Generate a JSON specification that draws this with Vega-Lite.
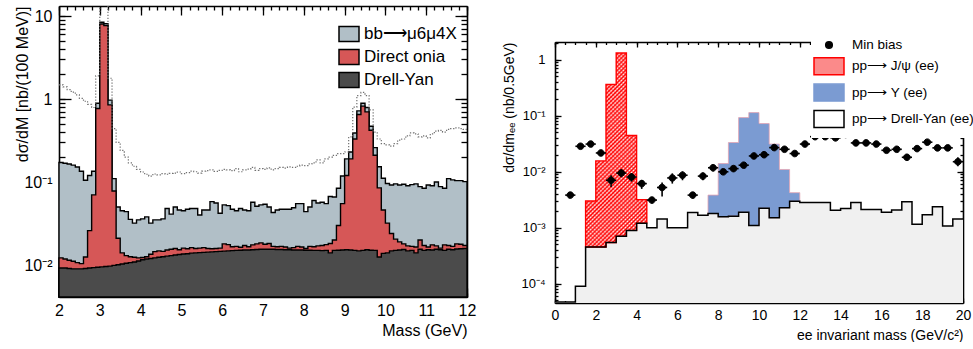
{
 "$schema": "https://vega.github.io/schema/vega-lite/v6.json",
 "padding": {"left": 13, "top": 5, "right": 0, "bottom": 0},
 "background": "white",
 "spacing": 25,
 "config": {"view": {"stroke": null}, "font": "Liberation Sans",
  "axis": {"domainColor": "black", "domainWidth": 1.6, "ticks": true, "tickColor": "#000000", "tickWidth": 1.3, "tickOpacity": 1, "labelColor": "black", "titleColor": "black", "titleFontWeight": "normal", "labelOverlap": false, "labelFlush": false, "grid": false, "zindex": 1},
  "legend": {"zindex": 2}},
 "resolve": {"scale": {"fill": "independent", "stroke": "independent", "shape": "independent"}},
 "datasets": {
  "L": [
   {"m":2.0,"dy":0.0092,"on":0.0122,"bb":0.172,"dot":1.48},
   {"m":2.1,"dy":0.0092,"on":0.0118,"bb":0.168,"dot":1.40},
   {"m":2.2,"dy":0.0091,"on":0.0114,"bb":0.165,"dot":1.30},
   {"m":2.3,"dy":0.0090,"on":0.0111,"bb":0.160,"dot":1.21},
   {"m":2.4,"dy":0.0090,"on":0.0107,"bb":0.152,"dot":1.12},
   {"m":2.5,"dy":0.0090,"on":0.0104,"bb":0.135,"dot":1.02},
   {"m":2.6,"dy":0.0091,"on":0.0125,"bb":0.105,"dot":0.94},
   {"m":2.7,"dy":0.0092,"on":0.026,"bb":0.120,"dot":0.86},
   {"m":2.8,"dy":0.0093,"on":0.070,"bb":0.135,"dot":0.79},
   {"m":2.9,"dy":0.0094,"on":0.77,"bb":0.89,"dot":1.9},
   {"m":3.0,"dy":0.0095,"on":8.0,"bb":8.4,"dot":14},
   {"m":3.1,"dy":0.0096,"on":7.7,"bb":8.1,"dot":14},
   {"m":3.2,"dy":0.0097,"on":0.85,"bb":0.97,"dot":1.78},
   {"m":3.3,"dy":0.0099,"on":0.078,"bb":0.11,"dot":0.44},
   {"m":3.4,"dy":0.0101,"on":0.021,"bb":0.050,"dot":0.30},
   {"m":3.5,"dy":0.0103,"on":0.014,"bb":0.045,"dot":0.24},
   {"m":3.6,"dy":0.0105,"on":0.013,"bb":0.044,"dot":0.20},
   {"m":3.7,"dy":0.0107,"on":0.0126,"bb":0.0355,"dot":0.17},
   {"m":3.8,"dy":0.0109,"on":0.0124,"bb":0.032,"dot":0.155},
   {"m":3.9,"dy":0.0112,"on":0.0122,"bb":0.035,"dot":0.142},
   {"m":4.0,"dy":0.0116,"on":0.0123,"bb":0.036,"dot":0.132},
   {"m":4.1,"dy":0.0118,"on":0.0126,"bb":0.038,"dot":0.124},
   {"m":4.2,"dy":0.0120,"on":0.0135,"bb":0.032,"dot":0.118},
   {"m":4.3,"dy":0.0122,"on":0.0145,"bb":0.035,"dot":0.125},
   {"m":4.4,"dy":0.0124,"on":0.0148,"bb":0.035,"dot":0.122},
   {"m":4.5,"dy":0.0126,"on":0.0146,"bb":0.036,"dot":0.126},
   {"m":4.6,"dy":0.0128,"on":0.0152,"bb":0.048,"dot":0.124},
   {"m":4.7,"dy":0.0130,"on":0.0155,"bb":0.041,"dot":0.127},
   {"m":4.8,"dy":0.0132,"on":0.0158,"bb":0.050,"dot":0.128},
   {"m":4.9,"dy":0.0134,"on":0.0153,"bb":0.046,"dot":0.132},
   {"m":5.0,"dy":0.0136,"on":0.0160,"bb":0.045,"dot":0.126},
   {"m":5.1,"dy":0.0137,"on":0.0157,"bb":0.047,"dot":0.130},
   {"m":5.2,"dy":0.0139,"on":0.0162,"bb":0.048,"dot":0.135},
   {"m":5.3,"dy":0.0140,"on":0.0158,"bb":0.048,"dot":0.133},
   {"m":5.4,"dy":0.0141,"on":0.0160,"bb":0.040,"dot":0.128},
   {"m":5.5,"dy":0.0142,"on":0.0162,"bb":0.046,"dot":0.135},
   {"m":5.6,"dy":0.0143,"on":0.0158,"bb":0.046,"dot":0.137},
   {"m":5.7,"dy":0.0144,"on":0.0157,"bb":0.058,"dot":0.140},
   {"m":5.8,"dy":0.0145,"on":0.0158,"bb":0.056,"dot":0.134},
   {"m":5.9,"dy":0.0146,"on":0.0160,"bb":0.042,"dot":0.138},
   {"m":6.0,"dy":0.0147,"on":0.0180,"bb":0.053,"dot":0.142},
   {"m":6.1,"dy":0.0148,"on":0.0176,"bb":0.052,"dot":0.140},
   {"m":6.2,"dy":0.0149,"on":0.0166,"bb":0.047,"dot":0.137},
   {"m":6.3,"dy":0.0150,"on":0.0168,"bb":0.045,"dot":0.145},
   {"m":6.4,"dy":0.0151,"on":0.0164,"bb":0.048,"dot":0.133},
   {"m":6.5,"dy":0.0152,"on":0.0172,"bb":0.046,"dot":0.140},
   {"m":6.6,"dy":0.0152,"on":0.0166,"bb":0.045,"dot":0.143},
   {"m":6.7,"dy":0.0153,"on":0.0175,"bb":0.057,"dot":0.150},
   {"m":6.8,"dy":0.0154,"on":0.0180,"bb":0.051,"dot":0.138},
   {"m":6.9,"dy":0.0155,"on":0.0185,"bb":0.053,"dot":0.145},
   {"m":7.0,"dy":0.0155,"on":0.0178,"bb":0.054,"dot":0.142},
   {"m":7.1,"dy":0.0155,"on":0.0182,"bb":0.050,"dot":0.148},
   {"m":7.2,"dy":0.0155,"on":0.0168,"bb":0.043,"dot":0.140},
   {"m":7.3,"dy":0.0154,"on":0.0166,"bb":0.046,"dot":0.145},
   {"m":7.4,"dy":0.0154,"on":0.0168,"bb":0.047,"dot":0.150},
   {"m":7.5,"dy":0.0153,"on":0.0165,"bb":0.047,"dot":0.147},
   {"m":7.6,"dy":0.0153,"on":0.0160,"bb":0.047,"dot":0.152},
   {"m":7.7,"dy":0.0152,"on":0.0162,"bb":0.049,"dot":0.150},
   {"m":7.8,"dy":0.0152,"on":0.0168,"bb":0.055,"dot":0.155},
   {"m":7.9,"dy":0.0152,"on":0.0165,"bb":0.055,"dot":0.160},
   {"m":8.0,"dy":0.0151,"on":0.0158,"bb":0.044,"dot":0.158},
   {"m":8.1,"dy":0.0151,"on":0.0168,"bb":0.050,"dot":0.165},
   {"m":8.2,"dy":0.0150,"on":0.0166,"bb":0.060,"dot":0.170},
   {"m":8.3,"dy":0.0150,"on":0.0170,"bb":0.056,"dot":0.185},
   {"m":8.4,"dy":0.0149,"on":0.0172,"bb":0.057,"dot":0.170},
   {"m":8.5,"dy":0.0150,"on":0.0176,"bb":0.055,"dot":0.190},
   {"m":8.6,"dy":0.0140,"on":0.0182,"bb":0.067,"dot":0.200},
   {"m":8.7,"dy":0.0150,"on":0.020,"bb":0.066,"dot":0.21},
   {"m":8.8,"dy":0.0151,"on":0.030,"bb":0.084,"dot":0.22},
   {"m":8.9,"dy":0.0152,"on":0.055,"bb":0.118,"dot":0.22},
   {"m":9.0,"dy":0.0153,"on":0.12,"bb":0.19,"dot":0.23},
   {"m":9.1,"dy":0.0152,"on":0.19,"bb":0.23,"dot":0.35},
   {"m":9.2,"dy":0.0150,"on":0.33,"bb":0.39,"dot":0.80},
   {"m":9.3,"dy":0.0148,"on":0.65,"bb":0.72,"dot":1.10},
   {"m":9.4,"dy":0.0150,"on":0.82,"bb":0.89,"dot":1.20},
   {"m":9.5,"dy":0.0153,"on":0.70,"bb":0.79,"dot":1.10},
   {"m":9.6,"dy":0.0151,"on":0.42,"bb":0.47,"dot":0.74},
   {"m":9.7,"dy":0.0150,"on":0.21,"bb":0.26,"dot":0.40},
   {"m":9.8,"dy":0.0125,"on":0.085,"bb":0.153,"dot":0.33},
   {"m":9.9,"dy":0.0138,"on":0.046,"bb":0.111,"dot":0.29},
   {"m":10.0,"dy":0.0140,"on":0.032,"bb":0.096,"dot":0.28},
   {"m":10.1,"dy":0.0148,"on":0.024,"bb":0.092,"dot":0.27},
   {"m":10.2,"dy":0.0150,"on":0.0205,"bb":0.095,"dot":0.29},
   {"m":10.3,"dy":0.0152,"on":0.019,"bb":0.092,"dot":0.32},
   {"m":10.4,"dy":0.0154,"on":0.018,"bb":0.094,"dot":0.33},
   {"m":10.5,"dy":0.0148,"on":0.017,"bb":0.090,"dot":0.36},
   {"m":10.6,"dy":0.0150,"on":0.0168,"bb":0.093,"dot":0.39},
   {"m":10.7,"dy":0.0140,"on":0.0165,"bb":0.095,"dot":0.38},
   {"m":10.8,"dy":0.0155,"on":0.020,"bb":0.088,"dot":0.35},
   {"m":10.9,"dy":0.0150,"on":0.0172,"bb":0.084,"dot":0.36},
   {"m":11.0,"dy":0.0153,"on":0.0165,"bb":0.092,"dot":0.34},
   {"m":11.1,"dy":0.0152,"on":0.0175,"bb":0.090,"dot":0.38},
   {"m":11.2,"dy":0.0155,"on":0.0170,"bb":0.100,"dot":0.41},
   {"m":11.3,"dy":0.0153,"on":0.0160,"bb":0.088,"dot":0.42},
   {"m":11.4,"dy":0.0150,"on":0.0175,"bb":0.084,"dot":0.40},
   {"m":11.5,"dy":0.0155,"on":0.0172,"bb":0.110,"dot":0.43},
   {"m":11.6,"dy":0.0153,"on":0.0168,"bb":0.106,"dot":0.44},
   {"m":11.7,"dy":0.0156,"on":0.0180,"bb":0.104,"dot":0.45},
   {"m":11.8,"dy":0.0157,"on":0.0178,"bb":0.104,"dot":0.44},
   {"m":11.9,"dy":0.0158,"on":0.0172,"bb":0.101,"dot":0.43},
   {"m":12.0,"dy":0.0158,"on":0.0172,"bb":0.101,"dot":0.43}
  ],
  "Rdy": [
   {"m":0.0,"dy":0.000047},{"m":0.5,"dy":0.000047},{"m":1.0,"dy":0.00009},{"m":1.5,"dy":0.00045},
   {"m":2.0,"dy":0.00045},{"m":2.5,"dy":0.00054},{"m":3.0,"dy":0.0007},{"m":3.5,"dy":0.00089},
   {"m":4.0,"dy":0.0012},{"m":4.5,"dy":0.00099},{"m":5.0,"dy":0.00143},{"m":5.5,"dy":0.00099},
   {"m":6.0,"dy":0.00099},{"m":6.5,"dy":0.00185},{"m":7.0,"dy":0.00166},{"m":7.5,"dy":0.00178},
   {"m":8.0,"dy":0.00156},{"m":8.5,"dy":0.0016},{"m":9.0,"dy":0.00187},{"m":9.5,"dy":0.00109},
   {"m":10.0,"dy":0.00221},{"m":10.5,"dy":0.0015},{"m":11.0,"dy":0.00226},{"m":11.5,"dy":0.00295},
   {"m":12.0,"dy":0.0028},{"m":12.5,"dy":0.0028},{"m":13.0,"dy":0.0028},{"m":13.5,"dy":0.00204},
   {"m":14.0,"dy":0.0022},{"m":14.5,"dy":0.0028},{"m":15.0,"dy":0.0021},{"m":15.5,"dy":0.0021},
   {"m":16.0,"dy":0.00187},{"m":16.5,"dy":0.00205},{"m":17.0,"dy":0.0029},{"m":17.5,"dy":0.00115},
   {"m":18.0,"dy":0.0017},{"m":18.5,"dy":0.00235},{"m":19.0,"dy":0.00107},{"m":19.5,"dy":0.00143},
   {"m":20.0,"dy":0.00143}
  ],
  "Rj": [
   {"m":1.5,"dy":0.00045,"top":0.00299},{"m":2.0,"dy":0.00045,"top":0.0155},{"m":2.5,"dy":0.00054,"top":0.36},
   {"m":3.0,"dy":0.0007,"top":1.31},{"m":3.5,"dy":0.00089,"top":0.044},{"m":4.0,"dy":0.0012,"top":0.00316},
   {"m":4.5,"dy":0.0012,"top":0.00316}
  ],
  "Ru": [
   {"m":7.5,"dy":0.00178,"top":0.0038},{"m":8.0,"dy":0.00156,"top":0.0139},{"m":8.5,"dy":0.0016,"top":0.033},
   {"m":9.0,"dy":0.00187,"top":0.092},{"m":9.5,"dy":0.00109,"top":0.113},{"m":10.0,"dy":0.00221,"top":0.072},
   {"m":10.5,"dy":0.0015,"top":0.031},{"m":11.0,"dy":0.00226,"top":0.0109},{"m":11.5,"dy":0.00295,"top":0.0042},
   {"m":12.0,"dy":0.00295,"top":0.0042}
  ],
  "Rmb": [
   {"c":0.75,"x0":0.5,"x1":1.0,"v":0.0038,"lo":0.00355,"hi":0.00407},
   {"c":1.25,"x0":1.0,"x1":1.5,"v":0.0283,"lo":0.0264,"hi":0.0303},
   {"c":1.75,"x0":1.5,"x1":2.0,"v":0.031,"lo":0.0289,"hi":0.0332},
   {"c":2.25,"x0":2.0,"x1":2.5,"v":0.0215,"lo":0.0196,"hi":0.0236},
   {"c":2.75,"x0":2.5,"x1":3.0,"v":0.007,"lo":0.0053,"hi":0.0086},
   {"c":3.25,"x0":3.0,"x1":3.5,"v":0.0094,"lo":0.0079,"hi":0.011},
   {"c":3.75,"x0":3.5,"x1":4.0,"v":0.008,"lo":0.0066,"hi":0.0094},
   {"c":4.25,"x0":4.0,"x1":4.5,"v":0.0061,"lo":0.0049,"hi":0.0071},
   {"c":4.75,"x0":4.5,"x1":5.0,"v":0.0031,"lo":0.0027,"hi":0.0035},
   {"c":5.25,"x0":5.0,"x1":5.5,"v":0.0052,"lo":0.0036,"hi":0.0064},
   {"c":5.75,"x0":5.5,"x1":6.0,"v":0.0077,"lo":0.0061,"hi":0.0093},
   {"c":6.25,"x0":6.0,"x1":6.5,"v":0.0086,"lo":0.007,"hi":0.0101},
   {"c":6.75,"x0":6.5,"x1":7.0,"v":0.0038,"lo":0.0033,"hi":0.0043},
   {"c":7.25,"x0":7.0,"x1":7.5,"v":0.0083,"lo":0.007,"hi":0.0096},
   {"c":7.75,"x0":7.5,"x1":8.0,"v":0.0117,"lo":0.01,"hi":0.0132},
   {"c":8.25,"x0":8.0,"x1":8.5,"v":0.0099,"lo":0.0088,"hi":0.0111},
   {"c":8.75,"x0":8.5,"x1":9.0,"v":0.0113,"lo":0.01,"hi":0.0127},
   {"c":9.25,"x0":9.0,"x1":9.5,"v":0.013,"lo":0.0116,"hi":0.0146},
   {"c":9.75,"x0":9.5,"x1":10.0,"v":0.019,"lo":0.0172,"hi":0.021},
   {"c":10.25,"x0":10.0,"x1":10.5,"v":0.02,"lo":0.018,"hi":0.022},
   {"c":10.75,"x0":10.5,"x1":11.0,"v":0.0268,"lo":0.0245,"hi":0.0292},
   {"c":11.25,"x0":11.0,"x1":11.5,"v":0.025,"lo":0.0228,"hi":0.0274},
   {"c":11.75,"x0":11.5,"x1":12.0,"v":0.021,"lo":0.019,"hi":0.0232},
   {"c":12.25,"x0":12.0,"x1":12.5,"v":0.031,"lo":0.0285,"hi":0.0337},
   {"c":12.75,"x0":12.5,"x1":13.0,"v":0.042,"lo":0.039,"hi":0.045},
   {"c":13.25,"x0":13.0,"x1":13.5,"v":0.042,"lo":0.039,"hi":0.045},
   {"c":13.75,"x0":13.5,"x1":14.0,"v":0.04,"lo":0.037,"hi":0.043},
   {"c":14.25,"x0":14.0,"x1":14.5,"v":0.046,"lo":0.0425,"hi":0.0495},
   {"c":14.75,"x0":14.5,"x1":15.0,"v":0.0325,"lo":0.03,"hi":0.035},
   {"c":15.25,"x0":15.0,"x1":15.5,"v":0.0325,"lo":0.03,"hi":0.035},
   {"c":15.75,"x0":15.5,"x1":16.0,"v":0.031,"lo":0.0285,"hi":0.0337},
   {"c":16.25,"x0":16.0,"x1":16.5,"v":0.024,"lo":0.0218,"hi":0.0264},
   {"c":16.75,"x0":16.5,"x1":17.0,"v":0.025,"lo":0.0228,"hi":0.0274},
   {"c":17.25,"x0":17.0,"x1":17.5,"v":0.018,"lo":0.016,"hi":0.0203},
   {"c":17.75,"x0":17.5,"x1":18.0,"v":0.0257,"lo":0.0235,"hi":0.0281},
   {"c":18.25,"x0":18.0,"x1":18.5,"v":0.0335,"lo":0.0308,"hi":0.0364},
   {"c":18.75,"x0":18.5,"x1":19.0,"v":0.0265,"lo":0.0243,"hi":0.0289},
   {"c":19.25,"x0":19.0,"x1":19.5,"v":0.0265,"lo":0.0243,"hi":0.0289},
   {"c":19.75,"x0":19.5,"x1":20.0,"v":0.015,"lo":0.0125,"hi":0.018}
  ]
 },
 "hconcat": [
  {
   "width": 408, "height": 291,
   "resolve": {"axis": {"x": "independent", "y": "independent"}},
   "layer": [
    {
     "data": {"name": "L"},
     "mark": {"type": "area", "interpolate": "step-after", "stroke": "black", "strokeWidth": 1.4, "opacity": 1},
     "encoding": {
      "x": {"field": "m", "type": "quantitative", "scale": {"domain": [2, 12], "nice": false, "zero": false},
       "axis": {"orient": "bottom", "values": [2,3,4,5,6,7,8,9,10,11,12], "format": "d", "ticks": false,
        "labelFontSize": 16, "labelPadding": 5, "title": "Mass (GeV)", "titleFontSize": 16, "titleAnchor": "end", "titlePadding": 4}},
      "y": {"field": "bb", "type": "quantitative", "scale": {"type": "log", "domain": [0.00412, 13.2], "nice": false},
       "axis": {"orient": "left", "values": [0.01,0.1,1,10], "ticks": false,
        "labelExpr": "datum.value == 10 ? '10' : datum.value == 1 ? '1' : datum.value == 0.1 ? '10⁻¹' : '10⁻²'",
        "labelFontSize": 16, "labelPadding": 7, "title": "dσ/dM [nb/(100 MeV)]", "titleFontSize": 16, "titleAnchor": "end", "titleX": -37, "titleBaseline": "middle"}},
      "y2": {"datum": 0.00412},
      "fill": {"datum": "bb⟶μ6μ4X", "scale": {"domain": ["bb⟶μ6μ4X", "Direct onia", "Drell-Yan"], "range": ["#b1bfc7", "#d65757", "#4b4b4b"]},
       "legend": {"orient": "none", "legendX": 279, "legendY": 17, "title": null, "symbolType": "M-1,-0.75H1V0.75H-1Z", "symbolSize": 400, "symbolStrokeColor": "black", "symbolStrokeWidth": 1.5, "labelFontSize": 17, "labelOffset": 4, "rowPadding": 1, "padding": 0, "labelColor": "black", "zindex": 2}}
     }
    },
    {
     "data": {"name": "L"},
     "mark": {"type": "area", "interpolate": "step-after", "stroke": "black", "strokeWidth": 1.4, "opacity": 1},
     "encoding": {
      "x": {"field": "m", "type": "quantitative", "axis": {"orient": "top", "ticks": false, "labels": false, "title": null}},
      "y": {"field": "on", "type": "quantitative", "axis": {"orient": "right", "ticks": false, "labels": false, "title": null}},
      "y2": {"datum": 0.00412},
      "fill": {"datum": "Direct onia"}
     }
    },
    {
     "data": {"name": "L"},
     "mark": {"type": "area", "interpolate": "step-after", "stroke": "black", "strokeWidth": 1.4, "opacity": 1},
     "encoding": {
      "x": {"field": "m", "type": "quantitative", "axis": {"orient": "bottom", "values": [2,3,4,5,6,7,8,9,10,11,12], "ticks": true, "domain": false, "labels": false, "title": null, "tickSize": 9, "offset": -9}},
      "y": {"field": "dy", "type": "quantitative", "axis": {"orient": "left", "values": [0.01,0.1,1,10], "ticks": true, "domain": false, "labels": false, "title": null, "tickSize": 12, "offset": -12}},
      "y2": {"datum": 0.00412},
      "fill": {"datum": "Drell-Yan"}
     }
    },
    {
     "data": {"name": "L"},
     "mark": {"type": "line", "interpolate": "step-after", "stroke": "#707070", "strokeWidth": 1.2, "strokeDash": [1.3, 1.7], "clip": true},
     "encoding": {
      "x": {"field": "m", "type": "quantitative", "axis": {"orient": "bottom", "values": [2,2.2,2.4,2.6,2.8,3,3.2,3.4,3.6,3.8,4,4.2,4.4,4.6,4.8,5,5.2,5.4,5.6,5.8,6,6.2,6.4,6.6,6.8,7,7.2,7.4,7.6,7.8,8,8.2,8.4,8.6,8.8,9,9.2,9.4,9.6,9.8,10,10.2,10.4,10.6,10.8,11,11.2,11.4,11.6,11.8,12], "ticks": true, "domain": false, "labels": false, "title": null, "tickSize": 4, "offset": -4}},
      "y": {"field": "dot", "type": "quantitative", "axis": {"orient": "left", "values": [0.005,0.006,0.007,0.008,0.009,0.01,0.02,0.03,0.04,0.05,0.06,0.07,0.08,0.09,0.1,0.2,0.3,0.4,0.5,0.6,0.7,0.8,0.9,1,2,3,4,5,6,7,8,9,10], "ticks": true, "domain": false, "labels": false, "title": null, "tickSize": 6, "offset": -6}}
     }
    },
    {
     "data": {"name": "L"},
     "mark": {"type": "line", "interpolate": "step-after", "strokeOpacity": 0, "clip": true},
     "encoding": {
      "x": {"field": "m", "type": "quantitative", "axis": {"orient": "top", "values": [2,3,4,5,6,7,8,9,10,11,12], "ticks": true, "domain": false, "labels": false, "title": null, "tickSize": 9, "offset": -9}},
      "y": {"field": "dot", "type": "quantitative", "axis": {"orient": "right", "values": [0.01,0.1,1,10], "ticks": true, "domain": false, "labels": false, "title": null, "tickSize": 12, "offset": -12}}
     }
    },
    {
     "data": {"name": "L"},
     "mark": {"type": "line", "interpolate": "step-after", "strokeOpacity": 0, "clip": true},
     "encoding": {
      "x": {"field": "m", "type": "quantitative", "axis": {"orient": "top", "values": [2,2.2,2.4,2.6,2.8,3,3.2,3.4,3.6,3.8,4,4.2,4.4,4.6,4.8,5,5.2,5.4,5.6,5.8,6,6.2,6.4,6.6,6.8,7,7.2,7.4,7.6,7.8,8,8.2,8.4,8.6,8.8,9,9.2,9.4,9.6,9.8,10,10.2,10.4,10.6,10.8,11,11.2,11.4,11.6,11.8,12], "ticks": true, "domain": false, "labels": false, "title": null, "tickSize": 4, "offset": -4}},
      "y": {"field": "dot", "type": "quantitative", "axis": {"orient": "right", "values": [0.005,0.006,0.007,0.008,0.009,0.01,0.02,0.03,0.04,0.05,0.06,0.07,0.08,0.09,0.1,0.2,0.3,0.4,0.5,0.6,0.7,0.8,0.9,1,2,3,4,5,6,7,8,9,10], "ticks": true, "domain": false, "labels": false, "title": null, "tickSize": 6, "offset": -6}}
     }
    }
   ]
  },
  {
   "width": 408, "height": 297,
   "resolve": {"axis": {"x": "independent", "y": "independent"}},
   "layer": [
    {
     "data": {"name": "Rdy"},
     "mark": {"type": "area", "interpolate": "step-after", "fill": "#f0f0f0", "opacity": 1},
     "encoding": {
      "x": {"field": "m", "type": "quantitative", "scale": {"domain": [0, 20], "nice": false, "zero": false},
       "axis": {"orient": "bottom", "values": [0,2,4,6,8,10,12,14,16,18,20], "format": "d", "ticks": false,
        "labelFontSize": 14, "labelPadding": 5, "title": "ee invariant mass (GeV/c²)", "titleFontSize": 14, "titleAnchor": "end", "titlePadding": 6}},
      "y": {"field": "dy", "type": "quantitative", "scale": {"type": "log", "domain": [0.000045, 2.06], "nice": false, "range": [297, 36]},
       "axis": {"orient": "left", "values": [0.0001,0.001,0.01,0.1,1], "ticks": false,
        "labelExpr": "datum.value == 1 ? '1' : datum.value == 0.1 ? '10⁻¹' : datum.value == 0.01 ? '10⁻²' : datum.value == 0.001 ? '10⁻³' : '10⁻⁴'",
        "labelFontSize": 13, "labelPadding": 10, "title": "dσ/dmₑₑ (nb/0.5GeV)", "titleFontSize": 14, "titleAnchor": "end", "titleX": -46, "titleBaseline": "middle"}},
      "y2": {"datum": 0.000045}
     }
    },
    {
     "data": {"name": "Rj"},
     "mark": {"type": "area", "interpolate": "step-after", "stroke": "#ff0000", "strokeWidth": 1.4, "opacity": 1,
      "fill": {"gradient": "linear", "x1": 0, "y1": 0, "x2": 0.3774, "y2": 1.1964, "stops": [
       {"offset":0,"color":"red"},{"offset":0.008,"color":"white"},{"offset":0.016,"color":"red"},{"offset":0.024,"color":"white"},{"offset":0.032,"color":"red"},{"offset":0.04,"color":"white"},{"offset":0.048,"color":"red"},{"offset":0.056,"color":"white"},{"offset":0.064,"color":"red"},{"offset":0.072,"color":"white"},
       {"offset":0.08,"color":"red"},{"offset":0.088,"color":"white"},{"offset":0.096,"color":"red"},{"offset":0.104,"color":"white"},{"offset":0.112,"color":"red"},{"offset":0.12,"color":"white"},{"offset":0.128,"color":"red"},{"offset":0.136,"color":"white"},{"offset":0.144,"color":"red"},{"offset":0.152,"color":"white"},
       {"offset":0.16,"color":"red"},{"offset":0.168,"color":"white"},{"offset":0.176,"color":"red"},{"offset":0.184,"color":"white"},{"offset":0.192,"color":"red"},{"offset":0.2,"color":"white"},{"offset":0.208,"color":"red"},{"offset":0.216,"color":"white"},{"offset":0.224,"color":"red"},{"offset":0.232,"color":"white"},
       {"offset":0.24,"color":"red"},{"offset":0.248,"color":"white"},{"offset":0.256,"color":"red"},{"offset":0.264,"color":"white"},{"offset":0.272,"color":"red"},{"offset":0.28,"color":"white"},{"offset":0.288,"color":"red"},{"offset":0.296,"color":"white"},{"offset":0.304,"color":"red"},{"offset":0.312,"color":"white"},
       {"offset":0.32,"color":"red"},{"offset":0.328,"color":"white"},{"offset":0.336,"color":"red"},{"offset":0.344,"color":"white"},{"offset":0.352,"color":"red"},{"offset":0.36,"color":"white"},{"offset":0.368,"color":"red"},{"offset":0.376,"color":"white"},{"offset":0.384,"color":"red"},{"offset":0.392,"color":"white"},
       {"offset":0.4,"color":"red"},{"offset":0.408,"color":"white"},{"offset":0.416,"color":"red"},{"offset":0.424,"color":"white"},{"offset":0.432,"color":"red"},{"offset":0.44,"color":"white"},{"offset":0.448,"color":"red"},{"offset":0.456,"color":"white"},{"offset":0.464,"color":"red"},{"offset":0.472,"color":"white"},
       {"offset":0.48,"color":"red"},{"offset":0.488,"color":"white"},{"offset":0.496,"color":"red"},{"offset":0.504,"color":"white"},{"offset":0.512,"color":"red"},{"offset":0.52,"color":"white"},{"offset":0.528,"color":"red"},{"offset":0.536,"color":"white"},{"offset":0.544,"color":"red"},{"offset":0.552,"color":"white"},
       {"offset":0.56,"color":"red"},{"offset":0.568,"color":"white"},{"offset":0.576,"color":"red"},{"offset":0.584,"color":"white"},{"offset":0.592,"color":"red"},{"offset":0.6,"color":"white"},{"offset":0.608,"color":"red"},{"offset":0.616,"color":"white"},{"offset":0.624,"color":"red"},{"offset":0.632,"color":"white"},
       {"offset":0.64,"color":"red"},{"offset":0.648,"color":"white"},{"offset":0.656,"color":"red"},{"offset":0.664,"color":"white"},{"offset":0.672,"color":"red"},{"offset":0.68,"color":"white"},{"offset":0.688,"color":"red"},{"offset":0.696,"color":"white"},{"offset":0.704,"color":"red"},{"offset":0.712,"color":"white"},
       {"offset":0.72,"color":"red"},{"offset":0.728,"color":"white"},{"offset":0.736,"color":"red"},{"offset":0.744,"color":"white"},{"offset":0.752,"color":"red"},{"offset":0.76,"color":"white"},{"offset":0.768,"color":"red"},{"offset":0.776,"color":"white"},{"offset":0.784,"color":"red"},{"offset":0.792,"color":"white"},
       {"offset":0.8,"color":"red"},{"offset":0.808,"color":"white"},{"offset":0.816,"color":"red"},{"offset":0.824,"color":"white"},{"offset":0.832,"color":"red"},{"offset":0.84,"color":"white"},{"offset":0.848,"color":"red"},{"offset":0.856,"color":"white"},{"offset":0.864,"color":"red"},{"offset":0.872,"color":"white"},
       {"offset":0.88,"color":"red"},{"offset":0.888,"color":"white"},{"offset":0.896,"color":"red"},{"offset":0.904,"color":"white"},{"offset":0.912,"color":"red"},{"offset":0.92,"color":"white"},{"offset":0.928,"color":"red"},{"offset":0.936,"color":"white"},{"offset":0.944,"color":"red"},{"offset":0.952,"color":"white"},
       {"offset":0.96,"color":"red"},{"offset":0.968,"color":"white"},{"offset":0.976,"color":"red"},{"offset":0.984,"color":"white"},{"offset":0.992,"color":"red"},{"offset":1,"color":"white"}]}},
     "encoding": {
      "x": {"field": "m", "type": "quantitative", "axis": {"orient": "top", "offset": -36, "ticks": false, "labels": false, "title": null}},
      "y": {"field": "top", "type": "quantitative", "axis": {"orient": "right", "ticks": false, "labels": false, "title": null}},
      "y2": {"field": "dy"}
     }
    },
    {
     "data": {"name": "Rj"},
     "mark": {"type": "area", "interpolate": "step-after", "opacity": 1,
      "fill": {"gradient": "linear", "x1": 0, "y1": 1, "x2": 0.3774, "y2": -0.1964, "stops": [
       {"offset":0,"color":"rgba(255,0,0,0.55)"},{"offset":0.008,"color":"rgba(255,0,0,0)"},{"offset":0.016,"color":"rgba(255,0,0,0.55)"},{"offset":0.024,"color":"rgba(255,0,0,0)"},{"offset":0.032,"color":"rgba(255,0,0,0.55)"},{"offset":0.04,"color":"rgba(255,0,0,0)"},{"offset":0.048,"color":"rgba(255,0,0,0.55)"},{"offset":0.056,"color":"rgba(255,0,0,0)"},{"offset":0.064,"color":"rgba(255,0,0,0.55)"},{"offset":0.072,"color":"rgba(255,0,0,0)"},
       {"offset":0.08,"color":"rgba(255,0,0,0.55)"},{"offset":0.088,"color":"rgba(255,0,0,0)"},{"offset":0.096,"color":"rgba(255,0,0,0.55)"},{"offset":0.104,"color":"rgba(255,0,0,0)"},{"offset":0.112,"color":"rgba(255,0,0,0.55)"},{"offset":0.12,"color":"rgba(255,0,0,0)"},{"offset":0.128,"color":"rgba(255,0,0,0.55)"},{"offset":0.136,"color":"rgba(255,0,0,0)"},{"offset":0.144,"color":"rgba(255,0,0,0.55)"},{"offset":0.152,"color":"rgba(255,0,0,0)"},
       {"offset":0.16,"color":"rgba(255,0,0,0.55)"},{"offset":0.168,"color":"rgba(255,0,0,0)"},{"offset":0.176,"color":"rgba(255,0,0,0.55)"},{"offset":0.184,"color":"rgba(255,0,0,0)"},{"offset":0.192,"color":"rgba(255,0,0,0.55)"},{"offset":0.2,"color":"rgba(255,0,0,0)"},{"offset":0.208,"color":"rgba(255,0,0,0.55)"},{"offset":0.216,"color":"rgba(255,0,0,0)"},{"offset":0.224,"color":"rgba(255,0,0,0.55)"},{"offset":0.232,"color":"rgba(255,0,0,0)"},
       {"offset":0.24,"color":"rgba(255,0,0,0.55)"},{"offset":0.248,"color":"rgba(255,0,0,0)"},{"offset":0.256,"color":"rgba(255,0,0,0.55)"},{"offset":0.264,"color":"rgba(255,0,0,0)"},{"offset":0.272,"color":"rgba(255,0,0,0.55)"},{"offset":0.28,"color":"rgba(255,0,0,0)"},{"offset":0.288,"color":"rgba(255,0,0,0.55)"},{"offset":0.296,"color":"rgba(255,0,0,0)"},{"offset":0.304,"color":"rgba(255,0,0,0.55)"},{"offset":0.312,"color":"rgba(255,0,0,0)"},
       {"offset":0.32,"color":"rgba(255,0,0,0.55)"},{"offset":0.328,"color":"rgba(255,0,0,0)"},{"offset":0.336,"color":"rgba(255,0,0,0.55)"},{"offset":0.344,"color":"rgba(255,0,0,0)"},{"offset":0.352,"color":"rgba(255,0,0,0.55)"},{"offset":0.36,"color":"rgba(255,0,0,0)"},{"offset":0.368,"color":"rgba(255,0,0,0.55)"},{"offset":0.376,"color":"rgba(255,0,0,0)"},{"offset":0.384,"color":"rgba(255,0,0,0.55)"},{"offset":0.392,"color":"rgba(255,0,0,0)"},
       {"offset":0.4,"color":"rgba(255,0,0,0.55)"},{"offset":0.408,"color":"rgba(255,0,0,0)"},{"offset":0.416,"color":"rgba(255,0,0,0.55)"},{"offset":0.424,"color":"rgba(255,0,0,0)"},{"offset":0.432,"color":"rgba(255,0,0,0.55)"},{"offset":0.44,"color":"rgba(255,0,0,0)"},{"offset":0.448,"color":"rgba(255,0,0,0.55)"},{"offset":0.456,"color":"rgba(255,0,0,0)"},{"offset":0.464,"color":"rgba(255,0,0,0.55)"},{"offset":0.472,"color":"rgba(255,0,0,0)"},
       {"offset":0.48,"color":"rgba(255,0,0,0.55)"},{"offset":0.488,"color":"rgba(255,0,0,0)"},{"offset":0.496,"color":"rgba(255,0,0,0.55)"},{"offset":0.504,"color":"rgba(255,0,0,0)"},{"offset":0.512,"color":"rgba(255,0,0,0.55)"},{"offset":0.52,"color":"rgba(255,0,0,0)"},{"offset":0.528,"color":"rgba(255,0,0,0.55)"},{"offset":0.536,"color":"rgba(255,0,0,0)"},{"offset":0.544,"color":"rgba(255,0,0,0.55)"},{"offset":0.552,"color":"rgba(255,0,0,0)"},
       {"offset":0.56,"color":"rgba(255,0,0,0.55)"},{"offset":0.568,"color":"rgba(255,0,0,0)"},{"offset":0.576,"color":"rgba(255,0,0,0.55)"},{"offset":0.584,"color":"rgba(255,0,0,0)"},{"offset":0.592,"color":"rgba(255,0,0,0.55)"},{"offset":0.6,"color":"rgba(255,0,0,0)"},{"offset":0.608,"color":"rgba(255,0,0,0.55)"},{"offset":0.616,"color":"rgba(255,0,0,0)"},{"offset":0.624,"color":"rgba(255,0,0,0.55)"},{"offset":0.632,"color":"rgba(255,0,0,0)"},
       {"offset":0.64,"color":"rgba(255,0,0,0.55)"},{"offset":0.648,"color":"rgba(255,0,0,0)"},{"offset":0.656,"color":"rgba(255,0,0,0.55)"},{"offset":0.664,"color":"rgba(255,0,0,0)"},{"offset":0.672,"color":"rgba(255,0,0,0.55)"},{"offset":0.68,"color":"rgba(255,0,0,0)"},{"offset":0.688,"color":"rgba(255,0,0,0.55)"},{"offset":0.696,"color":"rgba(255,0,0,0)"},{"offset":0.704,"color":"rgba(255,0,0,0.55)"},{"offset":0.712,"color":"rgba(255,0,0,0)"},
       {"offset":0.72,"color":"rgba(255,0,0,0.55)"},{"offset":0.728,"color":"rgba(255,0,0,0)"},{"offset":0.736,"color":"rgba(255,0,0,0.55)"},{"offset":0.744,"color":"rgba(255,0,0,0)"},{"offset":0.752,"color":"rgba(255,0,0,0.55)"},{"offset":0.76,"color":"rgba(255,0,0,0)"},{"offset":0.768,"color":"rgba(255,0,0,0.55)"},{"offset":0.776,"color":"rgba(255,0,0,0)"},{"offset":0.784,"color":"rgba(255,0,0,0.55)"},{"offset":0.792,"color":"rgba(255,0,0,0)"},
       {"offset":0.8,"color":"rgba(255,0,0,0.55)"},{"offset":0.808,"color":"rgba(255,0,0,0)"},{"offset":0.816,"color":"rgba(255,0,0,0.55)"},{"offset":0.824,"color":"rgba(255,0,0,0)"},{"offset":0.832,"color":"rgba(255,0,0,0.55)"},{"offset":0.84,"color":"rgba(255,0,0,0)"},{"offset":0.848,"color":"rgba(255,0,0,0.55)"},{"offset":0.856,"color":"rgba(255,0,0,0)"},{"offset":0.864,"color":"rgba(255,0,0,0.55)"},{"offset":0.872,"color":"rgba(255,0,0,0)"},
       {"offset":0.88,"color":"rgba(255,0,0,0.55)"},{"offset":0.888,"color":"rgba(255,0,0,0)"},{"offset":0.896,"color":"rgba(255,0,0,0.55)"},{"offset":0.904,"color":"rgba(255,0,0,0)"},{"offset":0.912,"color":"rgba(255,0,0,0.55)"},{"offset":0.92,"color":"rgba(255,0,0,0)"},{"offset":0.928,"color":"rgba(255,0,0,0.55)"},{"offset":0.936,"color":"rgba(255,0,0,0)"},{"offset":0.944,"color":"rgba(255,0,0,0.55)"},{"offset":0.952,"color":"rgba(255,0,0,0)"},
       {"offset":0.96,"color":"rgba(255,0,0,0.55)"},{"offset":0.968,"color":"rgba(255,0,0,0)"},{"offset":0.976,"color":"rgba(255,0,0,0.55)"},{"offset":0.984,"color":"rgba(255,0,0,0)"},{"offset":0.992,"color":"rgba(255,0,0,0.55)"},{"offset":1,"color":"rgba(255,0,0,0)"}]}},
     "encoding": {
      "x": {"field": "m", "type": "quantitative", "axis": {"orient": "bottom", "values": [0,2,4,6,8,10,12,14,16,18,20], "ticks": true, "domain": false, "labels": false, "title": null, "tickSize": 5, "offset": -5}},
      "y": {"field": "top", "type": "quantitative", "axis": {"orient": "left", "values": [0.0001,0.001,0.01,0.1,1], "ticks": true, "domain": false, "labels": false, "title": null, "tickSize": 6, "offset": -6}},
      "y2": {"field": "dy"}
     }
    },
    {
     "data": {"name": "Ru"},
     "mark": {"type": "area", "interpolate": "step-after", "fill": "#7b9bd2", "stroke": "#e3a3b3", "strokeWidth": 0.8, "opacity": 1},
     "encoding": {
      "x": {"field": "m", "type": "quantitative", "axis": {"orient": "bottom", "values": [0,0.5,1,1.5,2,2.5,3,3.5,4,4.5,5,5.5,6,6.5,7,7.5,8,8.5,9,9.5,10,10.5,11,11.5,12,12.5,13,13.5,14,14.5,15,15.5,16,16.5,17,17.5,18,18.5,19,19.5,20], "ticks": true, "domain": false, "labels": false, "title": null, "tickSize": 2.5, "offset": -2.5}},
      "y": {"field": "top", "type": "quantitative", "axis": {"orient": "left", "values": [0.00005,0.00006,0.00007,0.00008,0.00009,0.0001,0.0002,0.0003,0.0004,0.0005,0.0006,0.0007,0.0008,0.0009,0.001,0.002,0.003,0.004,0.005,0.006,0.007,0.008,0.009,0.01,0.02,0.03,0.04,0.05,0.06,0.07,0.08,0.09,0.1,0.2,0.3,0.4,0.5,0.6,0.7,0.8,0.9,1,2], "ticks": true, "domain": false, "labels": false, "title": null, "tickSize": 3, "offset": -3}},
      "y2": {"field": "dy"}
     }
    },
    {
     "data": {"name": "Rdy"},
     "mark": {"type": "line", "interpolate": "step-after", "stroke": "black", "strokeWidth": 1.5},
     "encoding": {
      "x": {"field": "m", "type": "quantitative", "axis": {"orient": "top", "values": [0,2,4,6,8,10,12,14,16,18,20], "ticks": true, "domain": false, "labels": false, "title": null, "tickSize": 5, "offset": -41}},
      "y": {"field": "dy", "type": "quantitative", "axis": {"orient": "right", "values": [0.0001,0.001,0.01,0.1,1], "ticks": true, "domain": false, "labels": false, "title": null, "tickSize": 6, "offset": -6}}
     }
    },
    {
     "data": {"name": "Rmb"},
     "mark": {"type": "rule", "stroke": "black", "strokeWidth": 1.6},
     "encoding": {
      "x": {"field": "c", "type": "quantitative", "axis": {"orient": "top", "values": [0,0.5,1,1.5,2,2.5,3,3.5,4,4.5,5,5.5,6,6.5,7,7.5,8,8.5,9,9.5,10,10.5,11,11.5,12,12.5,13,13.5,14,14.5,15,15.5,16,16.5,17,17.5,18,18.5,19,19.5,20], "ticks": true, "domain": false, "labels": false, "title": null, "tickSize": 2.5, "offset": -38.5}},
      "y": {"field": "lo", "type": "quantitative", "axis": {"orient": "right", "values": [0.00005,0.00006,0.00007,0.00008,0.00009,0.0001,0.0002,0.0003,0.0004,0.0005,0.0006,0.0007,0.0008,0.0009,0.001,0.002,0.003,0.004,0.005,0.006,0.007,0.008,0.009,0.01,0.02,0.03,0.04,0.05,0.06,0.07,0.08,0.09,0.1,0.2,0.3,0.4,0.5,0.6,0.7,0.8,0.9,1,2], "ticks": true, "domain": false, "labels": false, "title": null, "tickSize": 3, "offset": -3}},
      "y2": {"field": "hi"}
     }
    },
    {
     "data": {"name": "Rmb"},
     "mark": {"type": "rule", "stroke": "black", "strokeWidth": 1.6},
     "encoding": {
      "x": {"field": "x0", "type": "quantitative", "axis": null},
      "x2": {"field": "x1"},
      "y": {"field": "v", "type": "quantitative", "axis": null}
     }
    },
    {
     "data": {"name": "Rmb"},
     "mark": {"type": "point", "filled": true, "size": 400, "opacity": 1, "strokeWidth": 1},
     "encoding": {
      "x": {"field": "c", "type": "quantitative", "axis": null},
      "y": {"field": "v", "type": "quantitative", "axis": null},
      "fill": {"datum": "Min bias", "scale": {"domain": ["Min bias", "pp⟶ J/ψ (ee)", "pp⟶ Υ (ee)", "pp⟶ Drell-Yan (ee)"], "range": ["black", "#fb8a8a", "#7b9bd2", "white"]},
       "legend": {"orient": "none", "legendX": 256, "legendY": 21, "title": null, "symbolSize": 400, "symbolStrokeWidth": 1.5, "labelFontSize": 13.5, "labelOffset": 12, "rowPadding": 2.3, "padding": 7, "fillColor": "white", "labelColor": "black", "zindex": 2}},
      "stroke": {"datum": "Min bias", "scale": {"domain": ["Min bias", "pp⟶ J/ψ (ee)", "pp⟶ Υ (ee)", "pp⟶ Drell-Yan (ee)"], "range": ["black", "#ff0000", "#7b9bd2", "black"]},
       "legend": {"orient": "none", "legendX": 256, "legendY": 21, "title": null, "symbolSize": 400, "symbolStrokeWidth": 1.5, "labelFontSize": 13.5, "labelOffset": 12, "rowPadding": 2.3, "padding": 7, "fillColor": "white", "labelColor": "black", "zindex": 2}},
      "shape": {"datum": "Min bias", "scale": {"domain": ["Min bias", "pp⟶ J/ψ (ee)", "pp⟶ Υ (ee)", "pp⟶ Drell-Yan (ee)"], "range": ["M0.33,0C0.33,0.1823,0.1823,0.33,0,0.33C-0.1823,0.33,-0.33,0.1823,-0.33,0C-0.33,-0.1823,-0.1823,-0.33,0,-0.33C0.1823,-0.33,0.33,-0.1823,0.33,0Z", "M-1.5,-0.85H1.5V0.85H-1.5Z", "M-1.5,-0.85H1.5V0.85H-1.5Z", "M-1.5,-0.85H1.5V0.85H-1.5Z"]},
       "legend": {"orient": "none", "legendX": 256, "legendY": 21, "title": null, "symbolSize": 400, "symbolStrokeWidth": 1.5, "labelFontSize": 13.5, "labelOffset": 12, "rowPadding": 2.3, "padding": 7, "fillColor": "white", "labelColor": "black", "zindex": 2}}
     }
    }
   ]
  }
 ]
}
